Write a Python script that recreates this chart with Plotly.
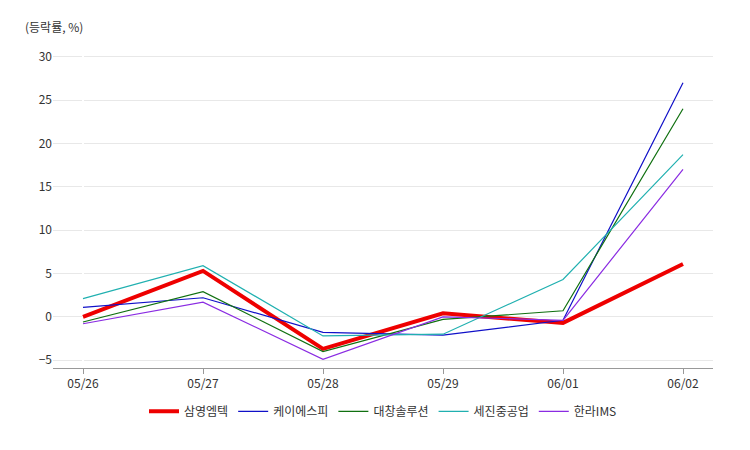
import plotly.graph_objects as go

dates = ["05/26", "05/27", "05/28", "05/29", "06/01", "06/02"]
s_samyoung = [0.0, 5.3, -3.7, 0.4, -0.7, 6.1]
s_ksp = [1.1, 2.2, -1.8, -2.1, -0.4, 27.0]
s_daechang = [-0.6, 2.9, -4.0, -0.3, 0.7, 24.0]
s_sejin = [2.1, 5.9, -2.2, -2.0, 4.3, 18.7]
s_halla = [-0.8, 1.7, -4.9, 0.0, -0.4, 17.0]

series = [
    ("삼영엠텍", s_samyoung, "#ee0000", 4),
    ("케이에스피", s_ksp, "#1010c8", 1.2),
    ("대창솔루션", s_daechang, "#107010", 1.2),
    ("세진중공업", s_sejin, "#20b0b0", 1.2),
    ("한라IMS", s_halla, "#8a2be2", 1.2),
]

fig = go.Figure()
for name, vals, color, w in series:
    fig.add_trace(go.Scatter(x=list(range(len(dates))), y=vals, name=name, mode="lines",
                             line=dict(color=color, width=w)))

fig.update_layout(
    width=750, height=450, plot_bgcolor="white", paper_bgcolor="white",
    margin=dict(l=45, r=45, t=40, b=90),
    font=dict(family="Noto Sans CJK KR", size=12, color="#333"),
    xaxis=dict(tickmode="array", tickvals=list(range(len(dates))), ticktext=dates,
               range=[-0.25, 5.25], showgrid=False, showline=True, linecolor="#999",
               ticks="outside", ticklen=5, tickcolor="#999"),
    yaxis=dict(range=[-5.9, 31], tickvals=[-5, 0, 5, 10, 15, 20, 25, 30],
               gridcolor="#e8e8e8", zeroline=False, ticks=""),
    legend=dict(orientation="h", x=0.5, xanchor="center", y=-0.09, yanchor="top",
                font=dict(size=12)),
    annotations=[dict(text="(등락률, %)", xref="paper", yref="paper", x=-0.045, y=1.1,
                      showarrow=False, xanchor="left", font=dict(size=12))],
)
fig.write_html("out.html")
